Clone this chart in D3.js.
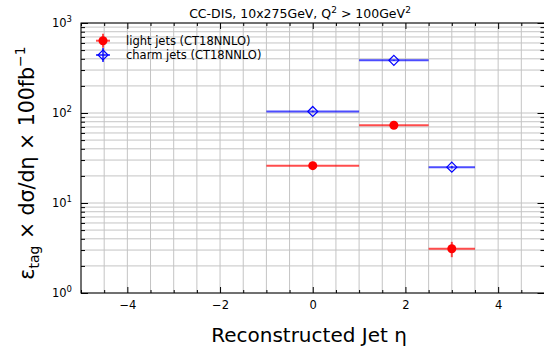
<!DOCTYPE html>
<html><head><meta charset="utf-8">
<script src="https://cdn.jsdelivr.net/npm/d3@7"></script>
<style>body{margin:0;background:#fff}svg{display:block;font-family:"DejaVu Sans",sans-serif}</style>
</head><body><svg id="c" width="544" height="348"></svg>
<script>
const binLo = [-1, 1, 2.5];
const binHi = [1, 2.5, 3.5];
const binCenter = [0, 1.75, 3];
const lightVals = [26, 73, 3.1];
const lightErr = [0.8, 1.5, 0.6];
const charmVals = [104, 385, 25];
const charmErr = [2, 5, 0.8];
const xTicks = [-4, -2, 0, 2, 4];
const yTicks = [1, 10, 100, 1000];
const yTickExp = ["0", "1", "2", "3"];

const svg = d3.select("#c");
const L = 81, R = 544.5, T = 23, B = 293;
const x = d3.scaleLinear().domain([-5, 5]).range([L, R]);
const y = d3.scaleLog().domain([1, 1000]).range([B, T]);

// grid
const g = svg.append("g");
const xGrid = d3.range(-5, 5.01, 0.5);
g.selectAll(".vg").data(xGrid).join("line")
  .attr("x1", d => x(d)).attr("x2", d => x(d)).attr("y1", T).attr("y2", B)
  .attr("stroke", "#c4c4c4").attr("stroke-width", 1);
const yGrid = [];
[1, 10, 100].forEach(p => { for (let k = 1; k <= 9; k++) yGrid.push(p * k); });
yGrid.push(1000);
g.selectAll(".hg").data(yGrid).join("line")
  .attr("x1", L).attr("x2", R).attr("y1", d => y(d)).attr("y2", d => y(d))
  .attr("stroke", "#c4c4c4").attr("stroke-width", 1);

// axes with inward ticks
const xMinor = xGrid.filter(d => !xTicks.includes(d));
const axB = d3.axisBottom(x).tickValues(xTicks).tickSize(-6).tickPadding(8)
  .tickFormat(d => d < 0 ? "\u2212" + Math.abs(d) : d);
svg.append("g").attr("transform", `translate(0,${B})`).call(axB)
  .call(s => s.select(".domain").remove())
  .call(s => s.selectAll("text").attr("font-size", 11.5).attr("fill", "#000").attr("font-family", "DejaVu Sans"));
svg.append("g").attr("transform", `translate(0,${B})`)
  .call(d3.axisBottom(x).tickValues(xMinor).tickSize(-3).tickFormat(""))
  .call(s => s.select(".domain").remove());
svg.append("g").attr("transform", `translate(0,${T})`)
  .call(d3.axisTop(x).tickValues(xTicks).tickSize(-6).tickFormat(""))
  .call(s => s.select(".domain").remove());
svg.append("g").attr("transform", `translate(0,${T})`)
  .call(d3.axisTop(x).tickValues(xMinor).tickSize(-3).tickFormat(""))
  .call(s => s.select(".domain").remove());

const yMinor = yGrid.filter(d => !yTicks.includes(d));
svg.append("g").attr("transform", `translate(${L},0)`)
  .call(d3.axisLeft(y).tickValues(yTicks).tickSize(-7).tickFormat(""))
  .call(s => s.select(".domain").remove());
svg.append("g").attr("transform", `translate(${L},0)`)
  .call(d3.axisLeft(y).tickValues(yMinor).tickSize(-4).tickFormat(""))
  .call(s => s.select(".domain").remove());
svg.append("g").attr("transform", `translate(${R},0)`)
  .call(d3.axisRight(y).tickValues(yTicks).tickSize(-7).tickFormat(""))
  .call(s => s.select(".domain").remove());
svg.append("g").attr("transform", `translate(${R},0)`)
  .call(d3.axisRight(y).tickValues(yMinor).tickSize(-4).tickFormat(""))
  .call(s => s.select(".domain").remove());

// y tick labels
const yl = svg.append("g").selectAll("text").data(yTicks).join("text")
  .attr("x", 72).attr("y", d => y(d) + 4).attr("text-anchor", "end")
  .attr("font-size", 11.5).attr("fill", "#000");
yl.append("tspan").text("10");
yl.append("tspan").attr("dy", -5).attr("font-size", 8.5).text((d, i) => yTickExp[i]);

// spines
svg.append("rect").attr("x", L).attr("y", T).attr("width", R - L).attr("height", B - T)
  .attr("fill", "none").attr("stroke", "#000").attr("stroke-width", 1);

// data
function series(vals, errs, color, kind) {
  const s = svg.append("g");
  s.selectAll(".h").data(vals).join("line")
    .attr("x1", (d, i) => x(binLo[i])).attr("x2", (d, i) => x(binHi[i]))
    .attr("y1", d => y(d)).attr("y2", d => y(d))
    .attr("stroke", color).attr("stroke-opacity", 0.7).attr("stroke-width", 2);
  s.selectAll(".v").data(vals).join("line")
    .attr("x1", (d, i) => x(binCenter[i])).attr("x2", (d, i) => x(binCenter[i]))
    .attr("y1", (d, i) => y(d + errs[i])).attr("y2", (d, i) => y(d - errs[i]))
    .attr("stroke", color).attr("stroke-opacity", 0.7).attr("stroke-width", 2);
  if (kind === "circle") {
    s.selectAll("circle").data(vals).join("circle")
      .attr("cx", (d, i) => x(binCenter[i])).attr("cy", d => y(d)).attr("r", 4.5)
      .attr("fill", color);
  } else {
    s.selectAll("path.m").data(vals).join("path")
      .attr("transform", (d, i) => `translate(${x(binCenter[i])},${y(d)})`)
      .attr("d", "M0,-5L5,0L0,5L-5,0Z").attr("fill", "none")
      .attr("stroke", color).attr("stroke-width", 1.2);
  }
}
series(lightVals, lightErr, "#ff0000", "circle");
series(charmVals, charmErr, "#0000ff", "diamond");

// legend
const lg = svg.append("g");
const lx = 103;
[[40.7, "#ff0000", "circle", "light jets (CT18NNLO)"], [55, "#0000ff", "diamond", "charm jets (CT18NNLO)"]]
  .forEach(([ly, c, k, t]) => {
    lg.append("line").attr("x1", lx - 7).attr("x2", lx + 7).attr("y1", ly).attr("y2", ly)
      .attr("stroke", c).attr("stroke-opacity", 0.7).attr("stroke-width", 2);
    lg.append("line").attr("x1", lx).attr("x2", lx).attr("y1", ly - 7).attr("y2", ly + 7)
      .attr("stroke", c).attr("stroke-opacity", 0.7).attr("stroke-width", 2);
    if (k === "circle") lg.append("circle").attr("cx", lx).attr("cy", ly).attr("r", 4.5).attr("fill", c);
    else lg.append("path").attr("transform", `translate(${lx},${ly})`).attr("d", "M0,-5L5,0L0,5L-5,0Z")
      .attr("fill", "none").attr("stroke", c).attr("stroke-width", 1.2);
    lg.append("text").attr("x", 126).attr("y", ly + 4).attr("font-size", 11.5).attr("fill", "#000").text(t);
  });

// title
const tt = svg.append("text").attr("x", 300).attr("y", 18).attr("text-anchor", "middle")
  .attr("font-size", 12.5).attr("fill", "#000");
tt.append("tspan").text("CC-DIS, 10x275GeV, Q");
tt.append("tspan").attr("dy", -5).attr("font-size", 9).text("2");
tt.append("tspan").attr("dy", 5).text(" > 100GeV");
tt.append("tspan").attr("dy", -5).attr("font-size", 9).text("2");

// x label
svg.append("text").attr("x", 309).attr("y", 342).attr("text-anchor", "middle")
  .attr("font-size", 20).attr("fill", "#000").text("Reconstructed Jet η");

// y label
const yt = svg.append("text").attr("transform", `translate(34,163) rotate(-90)`)
  .attr("text-anchor", "middle").attr("font-size", 20.5).attr("fill", "#000");
yt.append("tspan").text("ε");
yt.append("tspan").attr("dy", 5).attr("font-size", 14).text("tag");
yt.append("tspan").attr("dy", -5).text(" × dσ/dη × 100fb");
yt.append("tspan").attr("dy", -9).attr("font-size", 14).text("\u22121");
</script></body></html>
